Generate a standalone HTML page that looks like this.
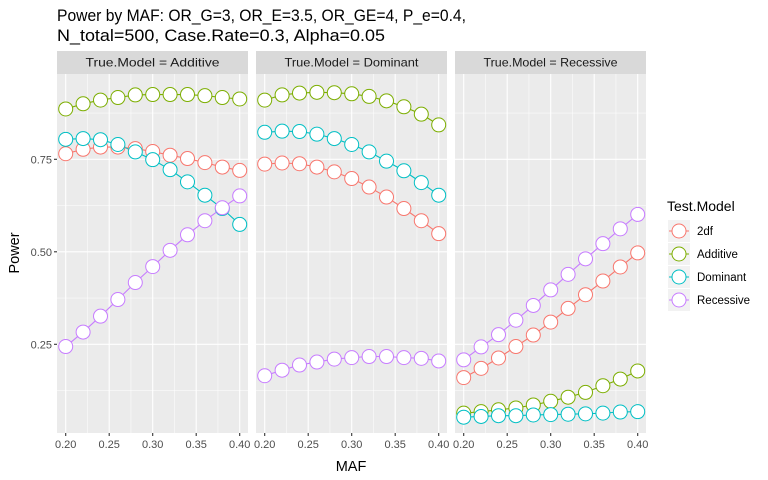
<!DOCTYPE html>
<html><head><meta charset="utf-8"><style>
body{margin:0;background:#fff;}
svg{display:block;font-family:"Liberation Sans",sans-serif;}
</style></head><body>
<svg id="chart" width="768" height="480" viewBox="0 0 768 480">
<text x="57" y="21" font-size="17" textLength="409" lengthAdjust="spacingAndGlyphs" fill="#000">Power by MAF: OR_G=3, OR_E=3.5, OR_GE=4, P_e=0.4,</text>
<text x="57" y="41" font-size="17" textLength="328" lengthAdjust="spacingAndGlyphs" fill="#000">N_total=500, Case.Rate=0.3, Alpha=0.05</text>
<g id="panels"></g>
<text x="351" y="471" font-size="14.5" text-anchor="middle">MAF</text>
<text transform="translate(19,253) rotate(-90)" font-size="14.5" text-anchor="middle">Power</text>
<g id="legend">
<text x="667" y="211" font-size="14">Test.Model</text>
</g>
</svg>
<script>
const maf = [0.20,0.22,0.24,0.26,0.28,0.30,0.32,0.34,0.36,0.38,0.40];
const panelNames = ["Additive","Dominant","Recessive"];
const seriesNames = ["2df","Additive","Dominant","Recessive"];
const colors = ["#F8766D","#7CAE00","#00BFC4","#C77CFF"];
const xTicks = [0.20,0.25,0.30,0.35,0.40];
const xTickLabels = ["0.20","0.25","0.30","0.35","0.40"];
const yTicks = [0.25,0.50,0.75];
const yTickLabels = ["0.25","0.50","0.75"];
// True.Model = Additive
const add2df = [.765,.777,.783,.783,.779,.771,.761,.752,.741,.729,.720];
const addAdditive = [.886,.900,.910,.917,.924,.925,.925,.925,.922,.917,.913];
const addDominant = [.804,.806,.803,.790,.770,.749,.722,.689,.653,.617,.574];
const addRecessive = [.244,.283,.326,.371,.417,.460,.504,.546,.584,.619,.651];
// True.Model = Dominant
const dom2df = [.737,.740,.738,.729,.716,.698,.675,.648,.617,.584,.549];
const domAdditive = [.910,.924,.929,.931,.930,.927,.920,.908,.892,.872,.843];
const domDominant = [.823,.826,.825,.818,.806,.790,.770,.745,.719,.687,.653];
const domRecessive = [.165,.180,.194,.202,.210,.214,.217,.217,.214,.212,.205];
// True.Model = Recessive
const rec2df = [.160,.185,.213,.244,.275,.310,.347,.384,.421,.459,.497];
const recAdditive = [.064,.068,.073,.078,.086,.096,.107,.120,.138,.156,.178];
const recDominant = [.053,.055,.057,.057,.059,.060,.061,.062,.064,.067,.068];
const recRecessive = [.208,.243,.276,.315,.355,.397,.439,.481,.522,.562,.601];

const panelData = [[add2df,addAdditive,addDominant,addRecessive],[dom2df,domAdditive,domDominant,domRecessive],[rec2df,recAdditive,recDominant,recRecessive]];
const NS="http://www.w3.org/2000/svg";
const panelLefts=[57,256,455], panelW=191, plotTop=74, plotBottom=433;
function yScale(v){return 344.3-(v-0.25)*370;}
function xScale(p,v){return panelLefts[p]+8.7+(v-0.2)/0.2*174;}
function mk(tag,attrs,parent){const e=document.createElementNS(NS,tag);for(const k in attrs)e.setAttribute(k,attrs[k]);parent.appendChild(e);return e;}
const G=document.getElementById("panels");
panelData.forEach((series,p)=>{
  const g=mk("g",{},G);
  
  
  const L=panelLefts[p];
  const bg=mk("rect",{x:L,y:plotTop,width:panelW,height:plotBottom-plotTop,fill:"#EBEBEB"},g);
  
  
  const strip=mk("rect",{x:L,y:51,width:panelW,height:23,fill:"#D9D9D9"},g);
  
  
  const st=mk("text",{x:L+panelW/2,y:66.5,"font-size":"12","text-anchor":"middle",fill:"#1A1A1A",textLength:"134",lengthAdjust:"spacingAndGlyphs"},g);
  st.textContent="True.Model = "+panelNames[p];
  
  
  const minorY=[0.125,0.375,0.625,0.875];
  minorY.forEach(v=>mk("line",{x1:L,x2:L+panelW,y1:yScale(v),y2:yScale(v),stroke:"#fff","stroke-width":0.5},g));
  for(let i=0;i<xTicks.length-1;i++){const m=(xTicks[i]+xTicks[i+1])/2;mk("line",{x1:xScale(p,m),x2:xScale(p,m),y1:plotTop,y2:plotBottom,stroke:"#fff","stroke-width":0.5},g);}
  yTicks.forEach(v=>mk("line",{x1:L,x2:L+panelW,y1:yScale(v),y2:yScale(v),stroke:"#fff","stroke-width":1.1},g));
  xTicks.forEach((v,i)=>{
    const x=xScale(p,v);
    mk("line",{x1:x,x2:x,y1:plotTop,y2:plotBottom,stroke:"#fff","stroke-width":1.1},g);
    mk("line",{x1:x,x2:x,y1:plotBottom,y2:plotBottom+3,stroke:"#333","stroke-width":1.1},g);
    const t=mk("text",{x:x,y:plotBottom+15,"font-size":"11","text-anchor":"middle",fill:"#4D4D4D"},g);
    t.textContent=xTickLabels[i];
    
    
  });
  series.forEach((vals,s)=>{
    const pts=vals.map((v,i)=>xScale(p,maf[i])+","+yScale(v)).join(" ");
    const pl=mk("polyline",{points:pts,fill:"none",stroke:colors[s],"stroke-width":1.1},g);
    
    
  });
  series.forEach((vals,s)=>{
    vals.forEach((v,i)=>{
      const c=mk("circle",{cx:xScale(p,maf[i]),cy:yScale(v),r:7,fill:"#fff",stroke:colors[s],"stroke-width":1},g);
      
      
    });
  });
});
yTicks.forEach((v,i)=>{
  mk("line",{x1:54,x2:57,y1:yScale(v),y2:yScale(v),stroke:"#333","stroke-width":1.1},G);
  const t=mk("text",{x:52,y:yScale(v)+4,"font-size":"11","text-anchor":"end",fill:"#4D4D4D"},G);
  t.textContent=yTickLabels[i];
  
  
});
const LG=document.getElementById("legend");
seriesNames.forEach((n,s)=>{
  const cy=231+s*23;
  const g=mk("g",{},LG);
  
  
  mk("rect",{x:668,y:cy-11,width:22,height:22,fill:"#F2F2F2"},g);
  mk("line",{x1:669,x2:689,y1:cy,y2:cy,stroke:colors[s],"stroke-width":1.1},g);
  mk("circle",{cx:679,cy:cy,r:7,fill:"#fff",stroke:colors[s],"stroke-width":1},g);
  const t=mk("text",{x:697,y:cy+4,"font-size":"11.5",fill:"#000"},g);
  t.textContent=n;
});
</script>
</body></html>
